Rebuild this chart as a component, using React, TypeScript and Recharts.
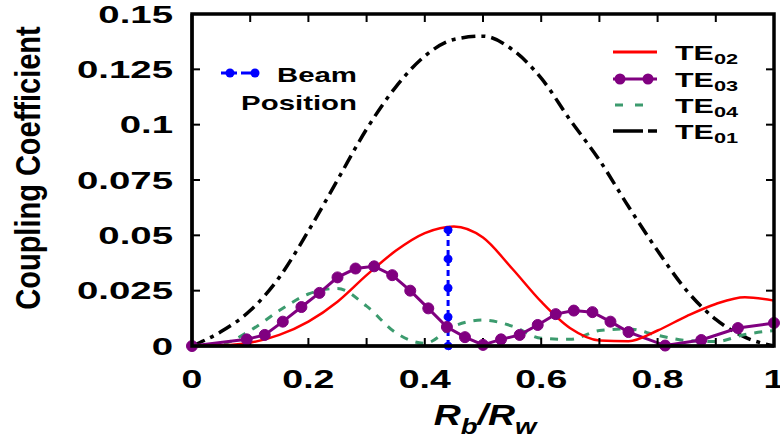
import { LineChart, Line, XAxis, YAxis } from "recharts";

// x positions (Rb/Rw) shared by TE01, TE02, TE04
const xGrid = [0, 0.05, 0.1, 0.15, 0.2, 0.25, 0.3, 0.35, 0.4, 0.45, 0.5, 0.55, 0.6, 0.65, 0.7, 0.75, 0.8, 0.85, 0.9, 0.95, 1.0];
const te01 = [0, 0.0065, 0.016, 0.031, 0.052, 0.075, 0.098, 0.117, 0.131, 0.1385, 0.14, 0.134, 0.121, 0.102, 0.084, 0.063, 0.043, 0.025, 0.012, 0.004, 0];
const te02 = [0, 0.0003, 0.0015, 0.005, 0.011, 0.02, 0.032, 0.043, 0.051, 0.054, 0.049, 0.035, 0.02, 0.008, 0.0025, 0.0022, 0.007, 0.0135, 0.019, 0.022, 0.0205];
const te04 = [0, 0.0008, 0.007, 0.016, 0.0235, 0.026, 0.018, 0.006, 0.0012, 0.009, 0.0117, 0.009, 0.0035, 0.003, 0.007, 0.0077, 0.0048, 0.0025, 0.002, 0.0052, 0.007];

// TE03 is sampled on its own grid (one marker per point)
const te03X = [0, 0.094, 0.125, 0.156, 0.188, 0.219, 0.25, 0.281, 0.313, 0.344, 0.375, 0.406, 0.438, 0.469, 0.5, 0.531, 0.563, 0.594, 0.625, 0.656, 0.688, 0.719, 0.75, 0.813, 0.875, 0.938, 1.0];
const te03 = [0, 0.003, 0.005, 0.011, 0.0176, 0.024, 0.031, 0.035, 0.036, 0.032, 0.025, 0.017, 0.0086, 0.004, 0.0005, 0.003, 0.005, 0.0095, 0.0144, 0.016, 0.0153, 0.011, 0.0063, 0.0002, 0.0027, 0.0081, 0.0104];

// beam position marker
const beamX = [0.44, 0.44, 0.44, 0.44, 0.44];
const beamY = [0, 0.0131, 0.0262, 0.0393, 0.0524];

const xTicks = [0, 0.1, 0.2, 0.3, 0.4, 0.5, 0.6, 0.7, 0.8, 0.9, 1];
const xTickLabels = ["0", "", "0.2", "", "0.4", "", "0.6", "", "0.8", "", "1"];
const yTicks = [0, 0.025, 0.05, 0.075, 0.1, 0.125, 0.15];
const yTickLabels = ["0", "0.025", "0.05", "0.075", "0.1", "0.125", "0.15"];

const X_MAX = 1;
const Y_MAX = 0.15;

// plot box in pixels (chart margins are derived from it)
const W = 780;
const H = 435;
const PLOT = { left: 192, right: 774, top: 14, bottom: 346 };

const toPoints = (xs: number[], ys: number[]) => xs.map((x, i) => ({ x, y: ys[i] }));

const FONT = "'Liberation Sans', Arial, sans-serif";

function XTick(props: any) {
  const { x, y, payload } = props;
  const i = xTicks.findIndex((t) => Math.abs(t - payload.value) < 1e-6);
  const label = i >= 0 ? xTickLabels[i] : "";
  if (!label) return null;
  return (
    <g transform={`translate(${x},${y + 42}) scale(1.5,1)`}>
      <text x={0} y={0} textAnchor="middle" fontFamily={FONT} fontWeight="bold" fontSize={25} fill="#000">
        {label}
      </text>
    </g>
  );
}

function YTick(props: any) {
  const { x, y, payload } = props;
  const i = yTicks.findIndex((t) => Math.abs(t - payload.value) < 1e-6);
  return (
    <g transform={`translate(${x - 19},${y + 8.5}) scale(1.6,1)`}>
      <text x={0} y={0} textAnchor="end" fontFamily={FONT} fontWeight="bold" fontSize={24} fill="#000">
        {i >= 0 ? yTickLabels[i] : ""}
      </text>
    </g>
  );
}

const axisLine = { stroke: "#000", strokeWidth: 3 };
const tickLine = { stroke: "#000", strokeWidth: 2 };

// top and right border of the box, with inward ticks at the axis tick values
function Frame() {
  const px = (v: number) => PLOT.left + (v / X_MAX) * (PLOT.right - PLOT.left);
  const py = (v: number) => PLOT.bottom - (v / Y_MAX) * (PLOT.bottom - PLOT.top);
  return (
    <g>
      <rect
        x={PLOT.left}
        y={PLOT.top}
        width={PLOT.right - PLOT.left}
        height={PLOT.bottom - PLOT.top}
        fill="none"
        stroke="#000000"
        strokeWidth={3.5}
      />
      {xTicks.slice(1, -1).map((t) => (
        <line key={`tt${t}`} x1={px(t)} y1={PLOT.top} x2={px(t)} y2={PLOT.top + 8} stroke="#000000" strokeWidth={2} />
      ))}
      {yTicks.slice(1, -1).map((t) => (
        <line key={`rt${t}`} x1={PLOT.right} y1={py(t)} x2={PLOT.right - 8} y2={py(t)} stroke="#000000" strokeWidth={2} />
      ))}
    </g>
  );
}

export default function App() {
  return (
    <div style={{ position: "absolute", left: 0, top: 0, width: W, height: H, background: "#fff" }}>
      <LineChart
        width={W}
        height={H}
        margin={{ top: PLOT.top, right: W - PLOT.right, bottom: 0, left: 0 }}
      >
        <XAxis
          dataKey="x"
          type="number"
          domain={[0, X_MAX]}
          ticks={xTicks}
          interval={0}
          height={H - PLOT.bottom}
          tickSize={-8}
          tickMargin={8}
          axisLine={axisLine}
          tickLine={tickLine}
          tick={<XTick />}
        />
        <YAxis
          type="number"
          domain={[0, Y_MAX]}
          ticks={yTicks}
          interval={0}
          width={PLOT.left}
          tickSize={-8}
          tickMargin={8}
          axisLine={axisLine}
          tickLine={tickLine}
          tick={<YTick />}
        />
        <Line
          data={toPoints(xGrid, te01)}
          dataKey="y"
          type="monotone"
          stroke="#000"
          strokeWidth={3.5}
          strokeDasharray="14 6 4 6"
          dot={false}
          isAnimationActive={false}
        />
        <Line
          data={toPoints(xGrid, te04)}
          dataKey="y"
          type="monotone"
          stroke="#3c9b6e"
          strokeWidth={3}
          strokeDasharray="8 8"
          dot={false}
          isAnimationActive={false}
        />
        <Line
          data={toPoints(te03X, te03)}
          dataKey="y"
          type="linear"
          stroke="#800080"
          strokeWidth={3}
          dot={{ r: 5.5, fill: "#800080", stroke: "#800080", strokeWidth: 1 }}
          isAnimationActive={false}
        />
        <Line
          data={toPoints(xGrid, te02)}
          dataKey="y"
          type="monotone"
          stroke="#ff0000"
          strokeWidth={2.5}
          dot={false}
          isAnimationActive={false}
        />
        <Line
          data={toPoints(beamX, beamY)}
          dataKey="y"
          type="linear"
          stroke="#0000ff"
          strokeWidth={3}
          strokeDasharray="6 4"
          dot={{ r: 4, fill: "#0000ff", stroke: "#0000ff", strokeWidth: 1 }}
          isAnimationActive={false}
        />
      </LineChart>

      <svg
        width={W}
        height={H}
        style={{ position: "absolute", left: 0, top: 0, pointerEvents: "none" }}
        fontFamily={FONT}
        fontWeight="bold"
      >
        <Frame />

        {/* y axis title */}
        <g transform="translate(40,168) scale(1.2,1) rotate(-90)">
          <text x={0} y={0} textAnchor="middle" fontSize={29} fill="#000">
            Coupling Coefficient
          </text>
        </g>
        {/* x axis title */}
        <g transform="translate(485,425) scale(1.25,1)">
          <text x={0} y={0} textAnchor="middle" fontSize={30} fontStyle="italic" fill="#000">
            R<tspan fontSize={22} dy={9}>b</tspan>
            <tspan dy={-9}>/R</tspan>
            <tspan fontSize={22} dy={9}>w</tspan>
          </text>
        </g>

        {/* beam position legend */}
        <line x1={221} y1={73} x2={258} y2={73} stroke="#0000ff" strokeWidth={3} strokeDasharray="16 4" />
        <circle cx={230} cy={73} r={4.5} fill="#0000ff" />
        <circle cx={255} cy={73} r={4.5} fill="#0000ff" />
        <g transform="translate(357,82) scale(1.4,1)">
          <text textAnchor="end" fontSize={21} fill="#000">Beam</text>
        </g>
        <g transform="translate(357,110) scale(1.4,1)">
          <text textAnchor="end" fontSize={21} fill="#000">Position</text>
        </g>

        {/* series legend */}
        <line x1={613} y1={52} x2={657} y2={52} stroke="#ff0000" strokeWidth={3} />
        <g transform="translate(675,59.5) scale(1.45,1)">
          <text fontSize={21} fill="#000">TE<tspan fontSize={15} dy={4}>02</tspan></text>
        </g>

        <line x1={613} y1={79} x2={657} y2={79} stroke="#800080" strokeWidth={3} />
        <circle cx={620} cy={79} r={5.5} fill="#800080" />
        <circle cx={648} cy={79} r={5.5} fill="#800080" />
        <g transform="translate(675,86.5) scale(1.45,1)">
          <text fontSize={21} fill="#000">TE<tspan fontSize={15} dy={4}>03</tspan></text>
        </g>

        <line x1={615} y1={105} x2={643} y2={105} stroke="#3c9b6e" strokeWidth={3} strokeDasharray="8 12" />
        <g transform="translate(675,112.5) scale(1.45,1)">
          <text fontSize={21} fill="#000">TE<tspan fontSize={15} dy={4}>04</tspan></text>
        </g>

        <line x1={613} y1={131} x2={643} y2={131} stroke="#000" strokeWidth={3.5} />
        <line x1={648} y1={131} x2={657} y2={131} stroke="#000" strokeWidth={3.5} />
        <g transform="translate(675,138.5) scale(1.45,1)">
          <text fontSize={21} fill="#000">TE<tspan fontSize={15} dy={4}>01</tspan></text>
        </g>
      </svg>
    </div>
  );
}
